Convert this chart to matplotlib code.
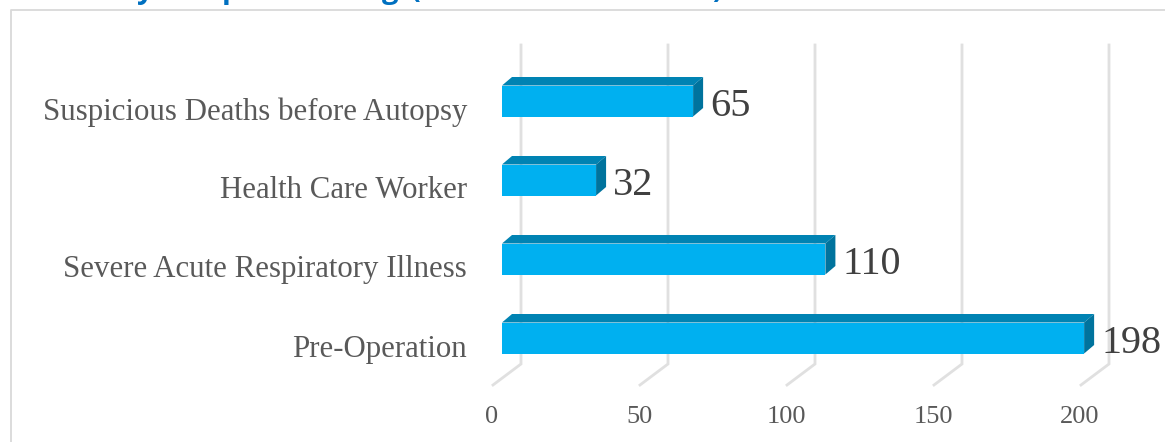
import matplotlib
matplotlib.use("Agg")
import matplotlib.pyplot as plt
from matplotlib.patches import Polygon

categories = ["Pre-Operation", "Severe Acute Respiratory Illness",
              "Health Care Worker", "Suspicious Deaths before Autopsy"]
values = [198, 110, 32, 65]
x_ticks = [0, 50, 100, 150, 200]

# only the bottoms of these title letters survive the crop of the original
title_glyphs = ["y", "p", "g", "(", ")"]
title_x_px = [137, 222, 382, 411, 712]

W, H = 1165, 442
PX_PER_UNIT = 2.94
PX_PER_ROW = 79
GRAY = "#595959"
GRID = "#e0e0e0"


def dx(px):
    return px / PX_PER_UNIT


def dy(px):
    return px / PX_PER_ROW


fig = plt.figure(figsize=(W / 100, H / 100), dpi=100)
plt.rcParams["font.family"] = ["Liberation Serif"]

# frame of the original chart, cut off on the right and at the bottom
frame = fig.add_axes([0, 0, 1, 1], zorder=0)
frame.set_xlim(0, W)
frame.set_ylim(H, 0)
frame.axis("off")
frame.plot([10.5, 10.5, W], [H, 10.2, 10.2], color="#d9d9d9", lw=1.3)

for glyph, x in zip(title_glyphs, title_x_px):
    frame.text(x, -2, glyph, color="#0070c0", fontsize=21, fontweight="bold",
               family="Open Sans", va="baseline", ha="left")

# axes spans the front plane: x 0..200, floor line to top of the wall
ax = fig.add_axes([502 / W, 1 - 364 / H, 588 / W, (364 - 45) / H], zorder=1)
ax.patch.set_alpha(0)
ax.set_xlim(0, 200)
ax.set_ylim((338 - 364) / PX_PER_ROW, (338 - 45) / PX_PER_ROW)
ax.axis("off")

y0, y1 = ax.get_ylim()
for v in x_ticks:
    # back wall line plus the slanted floor line coming forward from it
    ax.plot([v + dx(19), v + dx(19), v - dx(9)],
            [y1, y0, y0 - dy(21)],
            color=GRID, lw=2, clip_on=False, zorder=1, solid_joinstyle="miter")
    ax.text(v - dx(10), y0 - dy(53), str(v), color=GRAY, fontsize=19,
            ha="center", va="center", clip_on=False)

rows = range(len(categories))
bar_h = dy(31)
ax.barh(rows, values, height=bar_h, color="#00b0f0", zorder=3)

for i, (cat, v) in enumerate(zip(categories, values)):
    top = i + bar_h / 2
    bot = i - bar_h / 2
    # top and side faces of the 3D bar
    ax.add_patch(Polygon([(0, top), (dx(10), top + dy(8.5)),
                          (v + dx(10), top + dy(8.5)), (v, top)],
                         closed=True, color="#0083b3", lw=0, zorder=3, clip_on=False))
    ax.add_patch(Polygon([(v, top), (v + dx(10), top + dy(8.5)),
                          (v + dx(10), bot + dy(8.5)), (v, bot)],
                         closed=True, color="#00739d", lw=0, zorder=3, clip_on=False))
    ax.text(v + dx(17), i - dy(5.5), str(v), color="#404040", fontsize=29,
            ha="left", va="center", clip_on=False)
    ax.text(-dx(35), i - dy(11), cat, color=GRAY, fontsize=22.2,
            ha="right", va="center", clip_on=False)

fig.savefig("out.png", dpi=100)
